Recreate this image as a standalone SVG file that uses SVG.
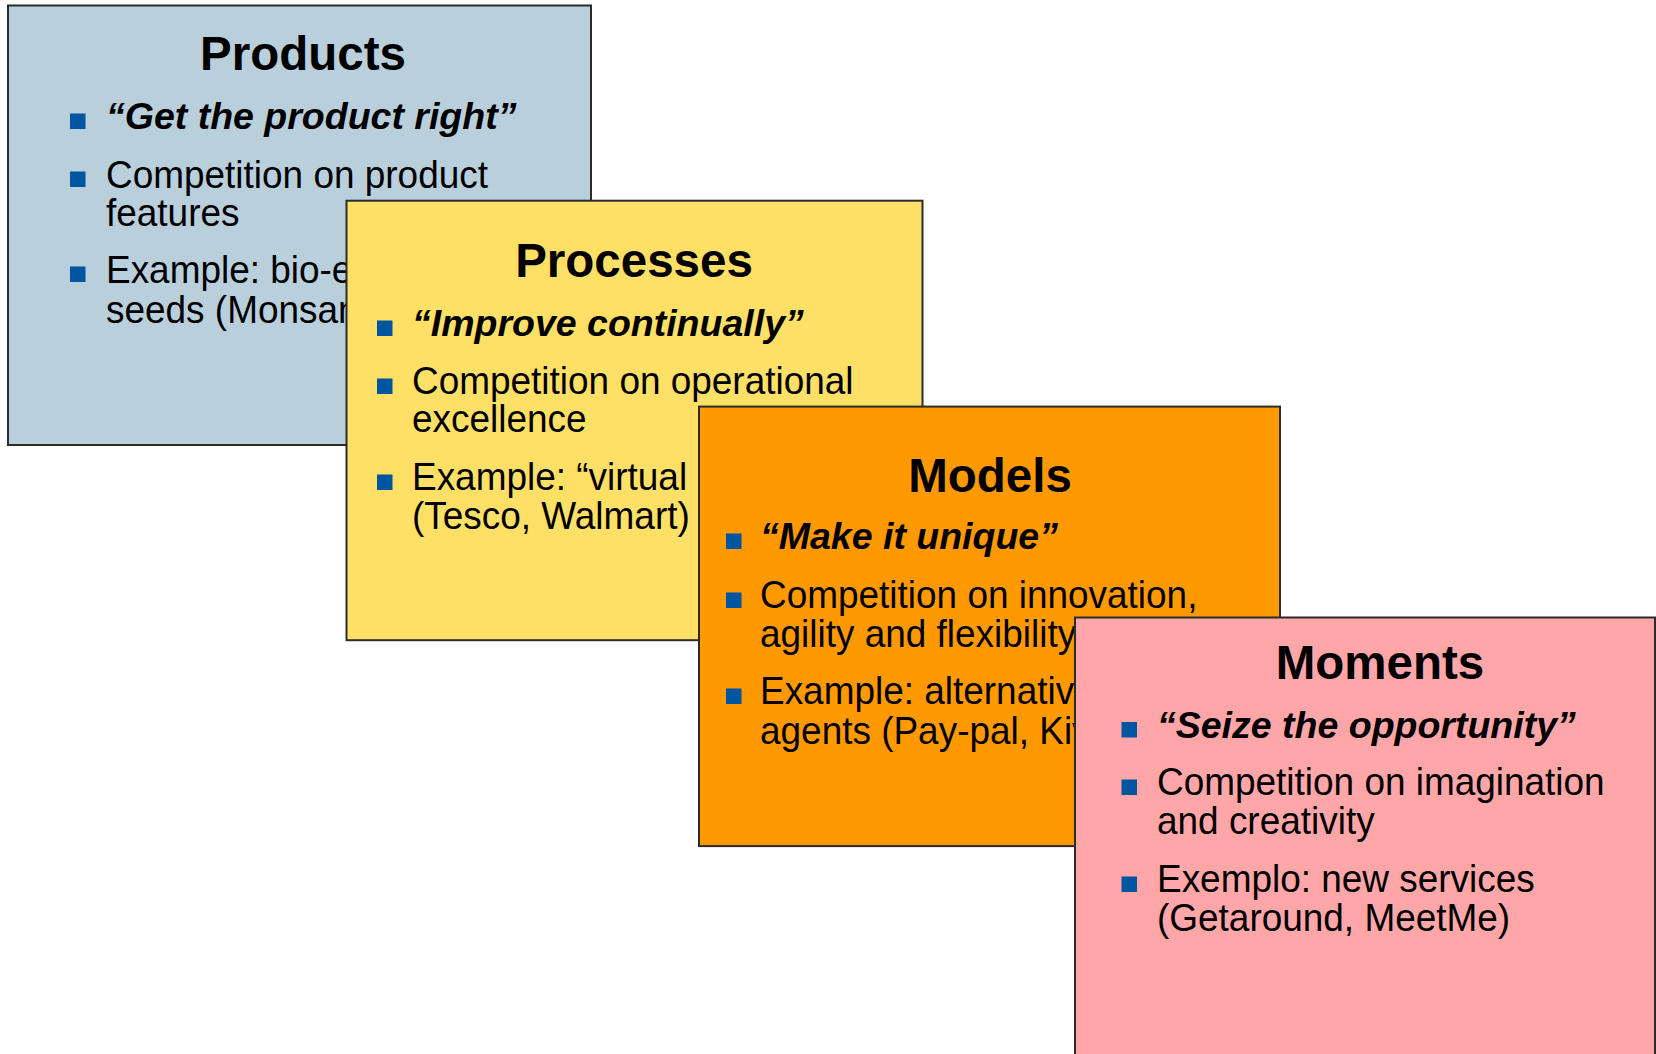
<svg xmlns="http://www.w3.org/2000/svg" width="1656" height="1054" viewBox="0 0 1656 1054">
<style>
.box{stroke:#2b2b2b;stroke-width:2}
.t{font-family:"Liberation Sans",Arial,sans-serif;font-size:47.5px;font-weight:bold;fill:#000;text-anchor:middle}
.b{font-family:"Liberation Sans",Arial,sans-serif;font-size:38.5px;fill:#000}
.q{font-family:"Liberation Sans",Arial,sans-serif;font-size:37.5px;font-weight:bold;font-style:italic;fill:#000}
.sq{fill:#0055A0}
</style>
<rect width="1656" height="1054" fill="#fff"/>
<g id="products">
<rect class="box" x="8" y="5.5" width="583" height="439.5" fill="#B9CFDC"/>
<text class="t" x="303" y="70">Products</text>
<rect class="sq" x="70" y="113.5" width="15.5" height="15.5"/>
<text class="q" x="106" y="129">“Get the product right”</text>
<rect class="sq" x="70" y="171.5" width="15.5" height="15.5"/>
<rect class="sq" x="70" y="266.5" width="15.5" height="15.5"/>
<g transform="translate(106 0) scale(0.96 1)">
<text class="b" x="0" y="188">Competition on product</text>
<text class="b" x="0" y="226">features</text>
<text class="b" x="0" y="283">Example: bio-e</text>
<text class="b" x="0" y="323">seeds (Monsan</text>
</g>
</g>
<g id="processes">
<rect class="box" x="346.5" y="200.7" width="576" height="439.5" fill="#FFE066"/>
<text class="t" x="634" y="277">Processes</text>
<rect class="sq" x="377" y="320.5" width="15.5" height="15.5"/>
<text class="q" x="412" y="336">“Improve continually”</text>
<rect class="sq" x="377" y="378.5" width="15.5" height="15.5"/>
<rect class="sq" x="377" y="474.5" width="15.5" height="15.5"/>
<g transform="translate(412 0) scale(0.96 1)">
<text class="b" x="0" y="394">Competition on operational</text>
<text class="b" x="0" y="432">excellence</text>
<text class="b" x="0" y="490">Example: “virtual</text>
<text class="b" x="0" y="529">(Tesco, Walmart)</text>
</g>
</g>
<g id="models">
<rect class="box" x="699" y="406.6" width="581" height="439.5" fill="#FF9900"/>
<text class="t" x="990" y="492">Models</text>
<rect class="sq" x="726" y="533.5" width="15.5" height="15.5"/>
<text class="q" x="760" y="549">“Make it unique”</text>
<rect class="sq" x="726" y="592.5" width="15.5" height="15.5"/>
<rect class="sq" x="726" y="688.5" width="15.5" height="15.5"/>
<g transform="translate(760 0) scale(0.96 1)">
<text class="b" x="0" y="608">Competition on innovation,</text>
<text class="b" x="0" y="647">agility and flexibility</text>
<text class="b" x="0" y="704">Example: alternative</text>
<text class="b" x="0" y="744">agents (Pay-pal, Kiv</text>
</g>
</g>
<g id="moments">
<rect class="box" x="1075" y="617.5" width="580" height="460" fill="#FFA6A8"/>
<text class="t" x="1380" y="679">Moments</text>
<rect class="sq" x="1121.5" y="722" width="15.5" height="15.5"/>
<text class="q" x="1157" y="738">“Seize the opportunity”</text>
<rect class="sq" x="1121.5" y="779.5" width="15.5" height="15.5"/>
<rect class="sq" x="1121.5" y="876.5" width="15.5" height="15.5"/>
<g transform="translate(1157 0) scale(0.96 1)">
<text class="b" x="0" y="795">Competition on imagination</text>
<text class="b" x="0" y="834">and creativity</text>
<text class="b" x="0" y="892">Exemplo: new services</text>
<text class="b" x="0" y="931">(Getaround, MeetMe)</text>
</g>
</g>
<g id="connectors"></g>
</svg>
